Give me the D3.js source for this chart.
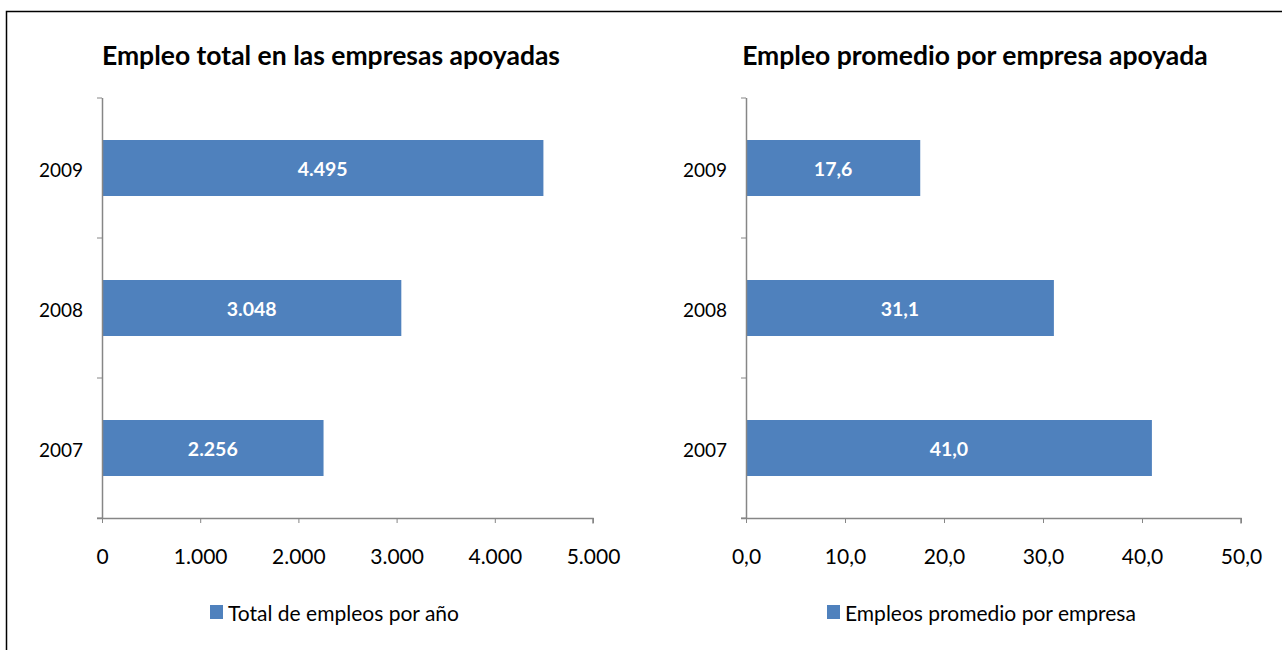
<!DOCTYPE html>
<html>
<head>
<meta charset="utf-8">
<script src="https://cdn.jsdelivr.net/npm/d3@7"></script>
<style>
  body { margin: 0; background: #fff; }
  svg { display: block; font-family: Lato, "Open Sans", sans-serif; }
</style>
</head>
<body>
<div id="chart"></div>
<script>
// data
var years = ["2009", "2008", "2007"];
var totalEmpleos = [4495, 3048, 2256];
var promedioEmpleos = [17.6, 31.1, 41.0];
var totalTicks = [0, 1000, 2000, 3000, 4000, 5000];
var promedioTicks = [0, 10, 20, 30, 40, 50];
var titles = ["Empleo total en las empresas apoyadas", "Empleo promedio por empresa apoyada"];
var legends = ["Total de empleos por año", "Empleos promedio por empresa"];

var W = 1282, H = 650;
var barColor = "#4F81BD", axisColor = "#868686";

var svg = d3.select("#chart").append("svg")
    .attr("width", W).attr("height", H);

svg.append("rect")
    .attr("x", 6.5).attr("y", 11.5)
    .attr("width", 1300).attr("height", 700)
    .attr("fill", "none").attr("stroke", "#000").attr("stroke-width", 1.5);

var fmtInt = function(d) { return d3.format(",")(d).replace(/,/g, "."); };
var fmtDec = function(d) { return d3.format(".1f")(d).replace(".", ","); };

function panel(cfg) {
  var g = svg.append("g");
  var x = d3.scaleLinear().domain([cfg.ticks[0], cfg.ticks[cfg.ticks.length - 1]])
      .range([cfg.left, cfg.right]);
  var y = d3.scaleBand().domain(years).range([cfg.top, cfg.bottom]).paddingInner(0.6).paddingOuter(0.3);
  var yb = d3.scaleBand().domain(years).range([cfg.top, cfg.bottom]);

  g.append("text")
      .attr("x", cfg.titleX).attr("y", 65)
      .attr("text-anchor", "middle")
      .attr("font-size", 26.5).attr("font-weight", "bold")
      .attr("fill", "#000")
      .text(cfg.title);

  // bars
  g.selectAll("rect.bar").data(cfg.values).enter().append("rect")
      .attr("class", "bar")
      .attr("x", x(0))
      .attr("y", function(d, i) { return y(years[i]); })
      .attr("width", function(d) { return x(d) - x(0); })
      .attr("height", y.bandwidth())
      .attr("fill", barColor);

  g.selectAll("text.val").data(cfg.values).enter().append("text")
      .attr("class", "val")
      .attr("x", function(d) { return (x(0) + x(d)) / 2; })
      .attr("y", function(d, i) { return y(years[i]) + y.bandwidth() / 2 + 7.5; })
      .attr("text-anchor", "middle")
      .attr("font-size", 19.5).attr("font-weight", "bold")
      .attr("fill", "#fff")
      .text(cfg.fmt);

  // x axis
  var xa = g.append("g").attr("transform", "translate(0," + cfg.bottom + ")")
      .call(d3.axisBottom(x).tickValues(cfg.ticks).tickFormat(cfg.fmt).tickSize(5));
  // y axis
  var ya = g.append("g").attr("transform", "translate(" + cfg.left + ",0)")
      .call(d3.axisLeft(yb).tickSize(0).tickPadding(19));
  g.append("g").selectAll("line").data(years.concat(["end"])).enter().append("line")
      .attr("x1", cfg.left - 5).attr("x2", cfg.left)
      .attr("y1", function(d) { return d === "end" ? cfg.bottom : yb(d); })
      .attr("y2", function(d) { return d === "end" ? cfg.bottom : yb(d); })
      .attr("stroke", axisColor);

  [xa, ya].forEach(function(a) {
    a.select(".domain").attr("stroke", axisColor).attr("stroke-width", 1.5);
    a.selectAll(".tick line").attr("stroke", axisColor);
    a.selectAll("text").attr("fill", "#000")
        .attr("font-family", "Lato, 'Open Sans', sans-serif");
  });
  xa.selectAll("text").attr("font-size", 21).attr("y", 46).attr("dy", 0);
  ya.selectAll("text").attr("font-size", 19).attr("dy", 8.5);
  ya.select(".domain").attr("d", "M0.5," + cfg.top + "V" + cfg.bottom);
  xa.select(".domain").attr("d", "M" + (cfg.left - 5) + ",0.5H" + cfg.right + "V5.5");

  // legend
  g.append("rect")
      .attr("x", cfg.legX).attr("y", 605)
      .attr("width", 13).attr("height", 14)
      .attr("fill", barColor);
  g.append("text")
      .attr("x", cfg.legX + 18).attr("y", 621)
      .attr("font-size", 21).attr("fill", "#000")
      .text(cfg.legend);
}

panel({ left: 102, right: 593, top: 98, bottom: 518, ticks: totalTicks, values: totalEmpleos,
        fmt: fmtInt, title: titles[0], titleX: 331, legend: legends[0], legX: 210 });
panel({ left: 746, right: 1241, top: 98, bottom: 518, ticks: promedioTicks, values: promedioEmpleos,
        fmt: fmtDec, title: titles[1], titleX: 975, legend: legends[1], legX: 827 });
</script>
</body>
</html>
